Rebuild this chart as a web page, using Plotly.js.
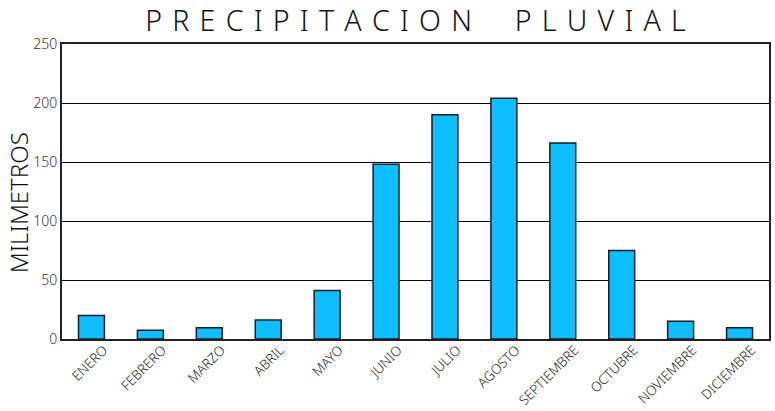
<!DOCTYPE html>
<html>
<head>
<meta charset="utf-8">
<script src="https://cdn.plot.ly/plotly-3.0.1.min.js"></script>
<style>html,body{margin:0;padding:0;background:#fff;}#chart{width:775px;height:411px;}</style>
</head>
<body>
<div id="chart"></div>
<script>
const months = ["ENERO","FEBRERO","MARZO","ABRIL","MAYO","JUNIO","JULIO","AGOSTO","SEPTIEMBRE","OCTUBRE","NOVIEMBRE","DICIEMBRE"];
const rainfall = [20, 7.5, 9.5, 16, 41, 148, 190, 204, 166, 75, 15, 9.5];
const yTicks = [0, 50, 100, 150, 200, 250];

const spaced = s => s.split("").map(c => c === " " ? "\u00A0\u00A0\u00A0" : c).join("\u00A0\u200A");

const fontFam = "'Noto Sans', 'DejaVu Sans', sans-serif";

Plotly.newPlot("chart", [{
  type: "bar",
  x: months,
  y: rainfall,
  width: 0.44,
  marker: {
    color: "#0FBEFF",
    line: {color: "#1b1b2a", width: 1.5}
  },
  hoverinfo: "skip"
}], {
  width: 775, height: 411,
  margin: {l: 62, r: 6, t: 44, b: 72, pad: 0},
  paper_bgcolor: "#fff", plot_bgcolor: "#fff",
  showlegend: false,
  title: {
    text: spaced("PRECIPITACION PLUVIAL"),
    font: {family: fontFam, size: 28.5, color: "#111", weight: 300},
    xref: "paper", x: 0.5, xanchor: "center",
    yref: "container", y: 0.948, yanchor: "middle"
  },
  annotations: [{
    text: "MILIMETROS",
    textangle: -90,
    xref: "paper", x: 0, xanchor: "center", xshift: -44,
    yref: "paper", y: 0.46, yanchor: "middle",
    showarrow: false,
    font: {family: fontFam, size: 24, color: "#111", weight: 300}
  }],
  xaxis: {
    type: "category",
    tickangle: -45,
    tickfont: {family: fontFam, size: 13.5, color: "#222", weight: 300},
    ticklabelshift: 12,
    ticklabelstandoff: -4,
    showline: true, linecolor: "#222", linewidth: 2, mirror: true,
    ticks: "", showgrid: false, automargin: false
  },
  yaxis: {
    range: [0, 250],
    tickvals: yTicks,
    ticktext: yTicks.map(String),
    tickfont: {family: fontFam, size: 14, color: "#333", weight: 300},
    showline: true, linecolor: "#222", linewidth: 2, mirror: true,
    showgrid: true, gridcolor: "#000", gridwidth: 1,
    zeroline: false, ticks: "", automargin: false
  }
}, {displayModeBar: false, staticPlot: true});
</script>
</body>
</html>
